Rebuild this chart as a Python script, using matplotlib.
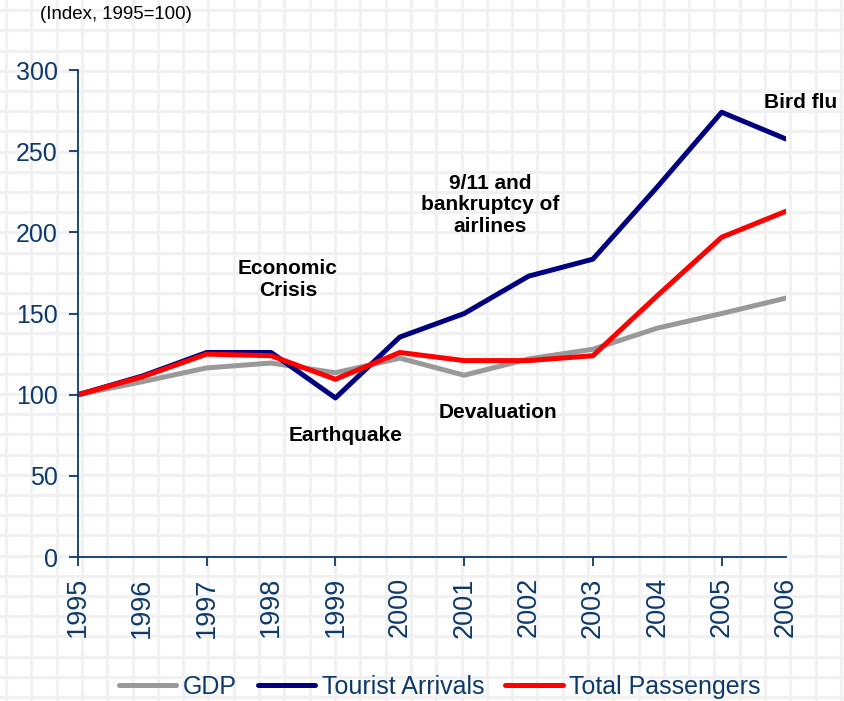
import numpy as np
import matplotlib
matplotlib.use("Agg")
import matplotlib.pyplot as plt

plt.rcParams['font.family'] = ['Liberation Sans', 'DejaVu Sans']

# data (index, 1995 = 100)
years = [1995, 1996, 1997, 1998, 1999, 2000, 2001, 2002, 2003, 2004, 2005, 2006]
gdp = [100, 108, 116.5, 119.5, 113.5, 122.5, 112, 122, 128, 141, 150, 159.5]
tourist_arrivals = [100, 111.5, 126, 126, 98, 135.5, 150, 173, 183.5, 228, 274, 257.5]
total_passengers = [100, 111, 125, 124, 109.5, 126, 121, 121, 124, 161, 197, 213]

# event labels: (text, year, index value)
events = [
    ("Economic\nCrisis", 1998.26, 171),
    ("Earthquake", 1999.15, 75),
    ("9/11 and\nbankruptcy of\nairlines", 2001.4, 217),
    ("Devaluation", 2001.53, 89),
    ("Bird flu", 2006.23, 280),
]

navy_text = '#0d3a6b'

fig = plt.figure(figsize=(8.44, 7.01), dpi=100)
fig.patch.set_facecolor('white')

# checkered paper background
bg = fig.add_axes([0, 0, 1, 1], zorder=-1)
bg.set_xlim(0, 844)
bg.set_ylim(701, 0)
bg.axis('off')
for x in np.arange(6.1, 844, 25.3):
    bg.axvline(x, color='#f1f1f1', lw=2.3)
for y in np.arange(10.2, 701, 20.2):
    bg.axhline(y, color='#f1f1f1', lw=2.3)

ax = fig.add_axes([0.0924, 0.2054, 0.8389, 0.6947])
ax.patch.set_alpha(0)

ax.plot(years, gdp, color='#999999', lw=3.6, label='GDP', solid_capstyle='round')
ax.plot(years, tourist_arrivals, color='#000080', lw=3.6, label='Tourist Arrivals', solid_capstyle='round')
ax.plot(years, total_passengers, color='#ff0000', lw=3.6, label='Total Passengers', solid_capstyle='round')

ax.set_xlim(1995, 2006)
ax.set_ylim(0, 300)
ax.set_yticks(range(0, 301, 50))
ax.set_xticks(years)
ax.set_xticklabels([str(y) for y in years], rotation=90)

for side in ['top', 'right']:
    ax.spines[side].set_visible(False)
for side in ['left', 'bottom']:
    ax.spines[side].set_color(navy_text)
    ax.spines[side].set_linewidth(1.3)

ax.tick_params(axis='y', direction='out', length=6.5, width=1.3, color=navy_text,
               labelcolor=navy_text, labelsize=18, pad=8)
ax.tick_params(axis='x', direction='out', length=6.5, width=1.3, color=navy_text,
               labelcolor=navy_text, labelsize=19.5, pad=8)
# tick marks only on every second year
for i, tick in enumerate(ax.xaxis.get_major_ticks()):
    if i % 2:
        tick.tick1line.set_visible(False)

for text, x, y in events:
    ax.text(x, y, text, ha='center', va='center', fontsize=15, fontweight='bold',
            color='black', linespacing=1.15)

fig.text(0.047, 0.98, "(Index, 1995=100)", fontsize=13.4, color='black', ha='left', va='center')

fig.legend(loc='center', bbox_to_anchor=(0.521, 0.02), ncol=3, frameon=False,
           fontsize=18, labelcolor=navy_text, handlelength=2.3, handletextpad=0.25,
           columnspacing=0.85)

fig.savefig('out.png', dpi=100)
